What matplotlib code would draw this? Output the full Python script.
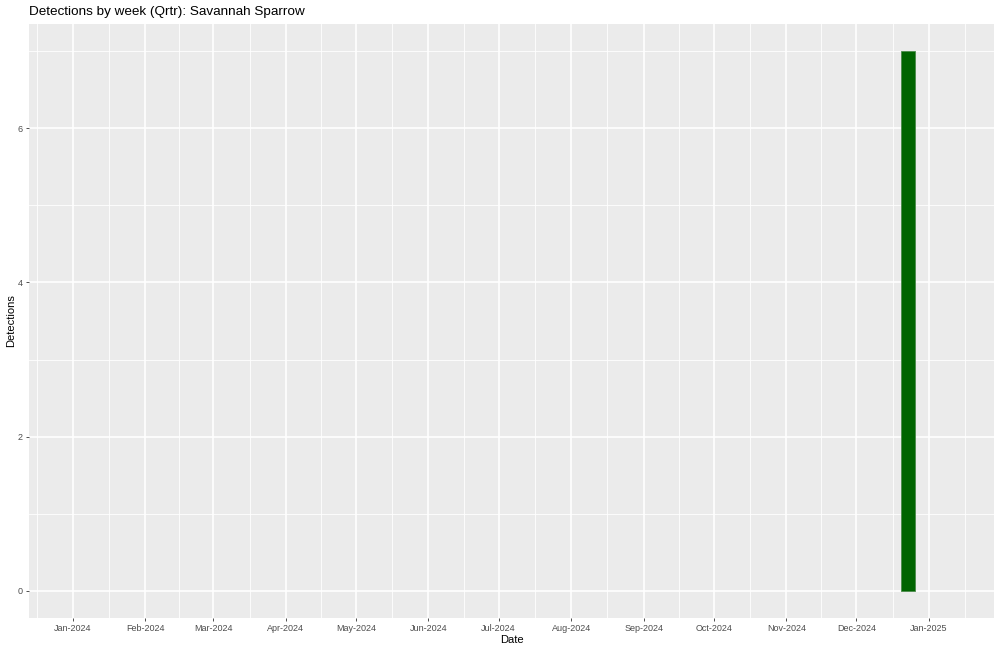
import numpy as np
import matplotlib.pyplot as plt
import matplotlib.dates as mdates
import pandas as pd

# data
week_start = pd.to_datetime(["2024-12-23"])
detections = [7]
tick_dates = pd.date_range("2024-01-01", "2025-01-01", freq="MS")
tick_labels = [d.strftime("%b-%Y") for d in tick_dates]
y_ticks = [0, 2, 4, 6]

plt.rcParams['font.family'] = ['Liberation Sans', 'DejaVu Sans']

fig = plt.figure(figsize=(10, 6.51), dpi=100)
ax = fig.add_axes([0.029, 1 - 618 / 651, (994 - 29) / 1000, (618 - 24) / 651])
ax.set_facecolor('#EBEBEB')

# minor grid at month midpoints and odd values
minor_x = []
all_months = pd.date_range("2023-12-01", "2025-02-01", freq="MS")
for a, b in zip(all_months[:-1], all_months[1:]):
    minor_x.append(a + (b - a) / 2)
for m in minor_x:
    ax.axvline(m, color='white', lw=0.6, zorder=0)
for v in [1, 3, 5, 7]:
    ax.axhline(v, color='white', lw=0.6, zorder=0)
for d in tick_dates:
    ax.axvline(d, color='white', lw=1.2, zorder=0)
for v in y_ticks:
    ax.axhline(v, color='white', lw=1.2, zorder=0)

ax.bar(week_start, detections, width=6.3, color='#006400',
       edgecolor='#4a8a4a', linewidth=0.6, zorder=2)

ax.set_xlim(pd.Timestamp("2024-01-01") - pd.Timedelta(days=18.8),
            pd.Timestamp("2024-01-01") + pd.Timedelta(days=393.8))
ax.set_ylim(-0.35, 7.35)

ax.set_xticks(tick_dates)
ax.set_xticklabels(tick_labels)
ax.set_yticks(y_ticks)
ax.tick_params(axis='both', labelsize=6.5, colors='#333333', labelcolor='#4D4D4D',
               length=2.5, width=0.6, pad=2)
for s in ax.spines.values():
    s.set_visible(False)

ax.set_xlabel("Date", fontsize=8, labelpad=1)
ax.set_ylabel("Detections", fontsize=8, labelpad=1)
fig.text(0.029, 1 - 12 / 651, "Detections by week (Qrtr): Savannah Sparrow",
         fontsize=9.7, va='center', ha='left')

fig.savefig("out.png", dpi=100)
